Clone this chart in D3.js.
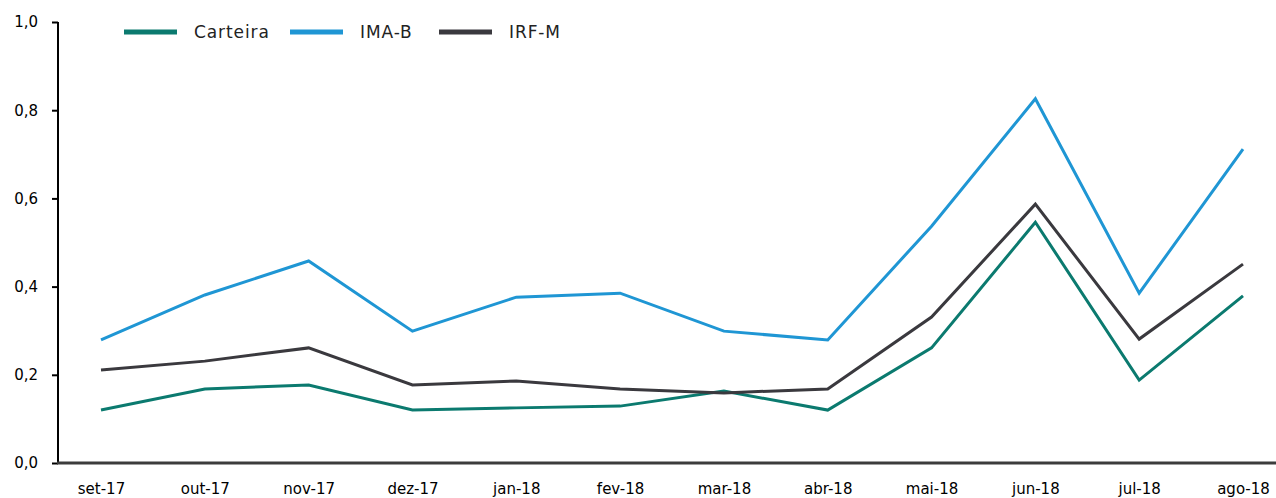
<!DOCTYPE html>
<html><head><meta charset="utf-8">
<script src="https://cdn.jsdelivr.net/npm/d3@7"></script>
<style>body{margin:0;background:#fff}svg{display:block}text{font-family:"DejaVu Sans",sans-serif}</style>
</head><body><svg id="c" width="1276" height="498"></svg>
<script>
const months = ["set-17","out-17","nov-17","dez-17","jan-18","fev-18","mar-18","abr-18","mai-18","jun-18","jul-18","ago-18"];
const carteira = [0.120,0.168,0.177,0.120,0.125,0.129,0.163,0.120,0.261,0.546,0.188,0.379];
const imaB     = [0.279,0.381,0.458,0.299,0.376,0.385,0.299,0.279,0.537,0.826,0.385,0.712];
const irfM     = [0.211,0.231,0.261,0.177,0.186,0.168,0.159,0.168,0.331,0.587,0.281,0.451];
const yTicks = [0,0.2,0.4,0.6,0.8,1.0];
const seriesNames = ["Carteira","IMA-B","IRF-M"];
const colors = ["#0b7a6f","#1f96d4","#3a393e"];

const svg = d3.select("#c");
const x = d3.scalePoint().domain(months).range([101,1243]);
const y = d3.scaleLinear().domain([0,1]).range([463,22]);
const fmt = d => d3.format(".1f")(d).replace(".",",");

const ya = svg.append("g").attr("transform","translate(58,0)")
  .call(d3.axisLeft(y).tickValues(yTicks).tickFormat(fmt).tickSize(6).tickPadding(14));
ya.select(".domain").attr("stroke","#000").attr("stroke-width",2).attr("d","M0,22V464");
ya.selectAll(".tick line").attr("stroke","#000").attr("stroke-width",2);
ya.selectAll("text").attr("font-size",15).attr("fill","#000").attr("font-family","DejaVu Sans");

const xa = svg.append("g").attr("transform","translate(0,463)")
  .call(d3.axisBottom(x).tickSize(0).tickPadding(20));
xa.select(".domain").attr("stroke","#3c3c3c").attr("stroke-width",3).attr("d","M57,0H1276");
xa.selectAll("text").attr("font-size",15).attr("fill","#000").attr("font-family","DejaVu Sans");

const line = d3.line().x((d,i)=>x(months[i])).y(d=>y(d));
[carteira, imaB, irfM].forEach((s,k)=>{
  svg.append("path").datum(s).attr("d",line).attr("fill","none")
    .attr("stroke",colors[k]).attr("stroke-width",3).attr("stroke-linejoin","miter");
});
const legX = [124,290,439];
seriesNames.forEach((n,k)=>{
  const g = svg.append("g").attr("transform",`translate(${legX[k]},32)`);
  g.append("line").attr("x1",0).attr("x2",53).attr("y1",0).attr("y2",0)
    .attr("stroke",colors[k]).attr("stroke-width",5);
  g.append("text").attr("x",70).attr("y",6).attr("font-size",17)
    .attr("letter-spacing","0.9px").attr("fill","#222").text(n);
});
</script></body></html>
